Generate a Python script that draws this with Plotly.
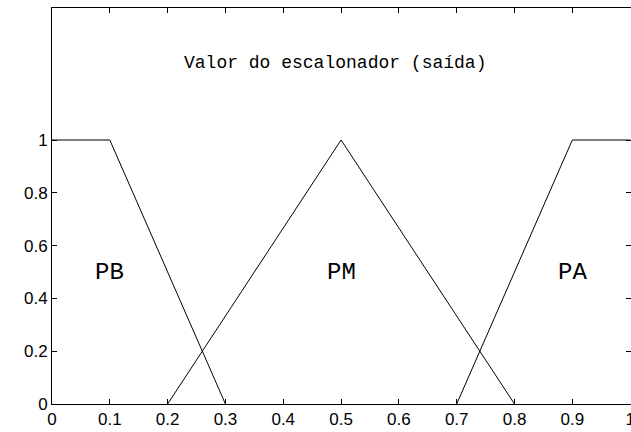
import plotly.graph_objects as go

# membership functions
pb_x = [0.0, 0.1, 0.3]
pb_y = [1.0, 1.0, 0.0]
pm_x = [0.2, 0.5, 0.8]
pm_y = [0.0, 1.0, 0.0]
pa_x = [0.7, 0.9, 1.0]
pa_y = [0.0, 1.0, 1.0]

labels = ["PB", "PM", "PA"]
label_x = [0.1, 0.5, 0.9]
label_y = [0.5, 0.5, 0.5]

title_text = "Valor do escalonador (saída)"
xticks = [0, 0.1, 0.2, 0.3, 0.4, 0.5, 0.6, 0.7, 0.8, 0.9, 1]
xticklabels = ["0", "0.1", "0.2", "0.3", "0.4", "0.5", "0.6", "0.7", "0.8", "0.9", "1"]
yticks = [0, 0.2, 0.4, 0.6, 0.8, 1]
yticklabels = ["0", "0.2", "0.4", "0.6", "0.8", "1"]

mono = "Liberation Mono"
sans = "Liberation Sans"

fig = go.Figure()
for xs, ys in [(pb_x, pb_y), (pm_x, pm_y), (pa_x, pa_y)]:
    fig.add_trace(go.Scatter(x=xs, y=ys, mode="lines",
                             line=dict(color="black", width=1),
                             showlegend=False, hoverinfo="skip"))

for t, x, y in zip(labels, label_x, label_y):
    fig.add_annotation(x=x, y=y, text=t, showarrow=False,
                       font=dict(family=mono, size=24, color="black"))

fig.add_annotation(x=0.49, y=1.29, text=title_text, showarrow=False,
                   font=dict(family=mono, size=18, color="black"))

tickfont = dict(family=sans, size=17, color="black")

fig.update_layout(
    width=631, height=432,
    margin=dict(l=52, r=0, t=8, b=28, autoexpand=False),
    plot_bgcolor="white", paper_bgcolor="white",
    font=dict(family=sans, size=17, color="black"),
)
fig.update_xaxes(range=[0, 1.0015], tickvals=xticks, ticktext=xticklabels,
                 tickfont=tickfont, ticklabeloverflow="allow",
                 ticks="inside", ticklen=5, tickcolor="black",
                 showline=True, linecolor="black", linewidth=1, mirror="ticks",
                 showgrid=False, zeroline=False, automargin=False)
fig.update_yaxes(range=[0, 1.5], tickvals=yticks, ticktext=yticklabels,
                 tickfont=tickfont,
                 ticks="inside", ticklen=5, tickcolor="black",
                 showline=True, linecolor="black", linewidth=1, mirror="ticks",
                 showgrid=False, zeroline=False, automargin=False)

post = ("document.body.style.margin='0';document.body.style.padding='0';"
        "document.body.style.overflow='hidden';"
        "var gd=document.getElementById('{plot_id}');"
        "Plotly.relayout(gd,{width:631,height:432});")

fig.write_html("out.html", post_script=post,
               config={"responsive": False, "displayModeBar": False})
